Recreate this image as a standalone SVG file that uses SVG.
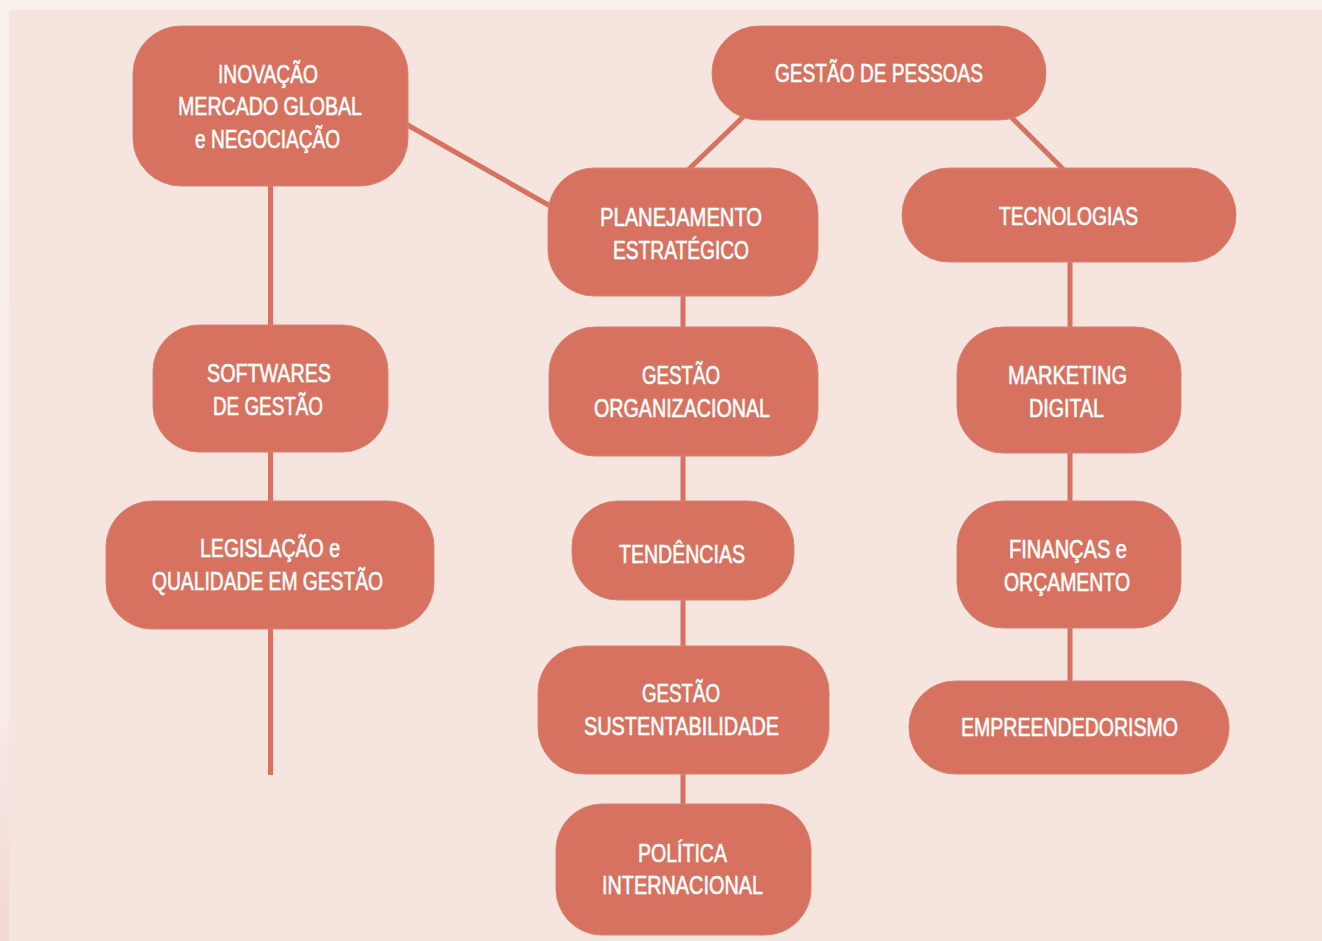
<svg xmlns="http://www.w3.org/2000/svg" width="1322" height="941" viewBox="0 0 1322 941">
<defs>
<linearGradient id="edge" x1="0" y1="0" x2="0" y2="1">
<stop offset="0" stop-color="#f9f0ed"/>
<stop offset="0.75" stop-color="#f8ebe8"/>
<stop offset="1" stop-color="#f2d6d1"/>
</linearGradient>
<style>
.node rect{fill:#d6725f;stroke:#da8270;stroke-width:1}
.node text{fill:#ffffff;stroke:#ffffff;stroke-width:0.6;font-family:"Liberation Sans",Arial,sans-serif;font-size:26px;text-anchor:middle}
.conn line{stroke:#d6725f;stroke-width:5;stroke-linecap:butt}
</style>
</defs>
<rect x="0" y="0" width="1322" height="941" fill="#f9f0ed"/>
<rect x="0" y="0" width="9" height="941" fill="url(#edge)"/>
<rect x="9" y="10" width="1313" height="931" fill="#f6e4df"/>
<g id="connectors" class="conn">
<line x1="270.5" y1="180" x2="270.5" y2="775"/>
<line x1="404" y1="123" x2="552" y2="207"/>
<line x1="744" y1="116" x2="688" y2="170"/>
<line x1="1010" y1="116" x2="1064" y2="170"/>
<line x1="683" y1="290" x2="683" y2="810"/>
<line x1="1070" y1="256" x2="1070" y2="687"/>
</g>
<g id="n-inovacao" class="node">
<rect x="133" y="26" width="275" height="160" rx="48"/>
<text x="268" y="83" textLength="100" lengthAdjust="spacingAndGlyphs">INOVAÇÃO</text>
<text x="270" y="115" textLength="184" lengthAdjust="spacingAndGlyphs">MERCADO GLOBAL</text>
<text x="267.5" y="148" textLength="145" lengthAdjust="spacingAndGlyphs">e NEGOCIAÇÃO</text>
</g>
<g id="n-gestao-pessoas" class="node">
<rect x="712" y="26" width="334" height="94" rx="47"/>
<text x="879" y="82" textLength="208" lengthAdjust="spacingAndGlyphs">GESTÃO DE PESSOAS</text>
</g>
<g id="n-planejamento" class="node">
<rect x="548" y="168" width="270" height="128" rx="46"/>
<text x="681" y="226" textLength="162" lengthAdjust="spacingAndGlyphs">PLANEJAMENTO</text>
<text x="681" y="259" textLength="136" lengthAdjust="spacingAndGlyphs">ESTRATÉGICO</text>
</g>
<g id="n-tecnologias" class="node">
<rect x="902" y="168" width="334" height="94" rx="47"/>
<text x="1068.5" y="225" textLength="139" lengthAdjust="spacingAndGlyphs">TECNOLOGIAS</text>
</g>
<g id="n-softwares" class="node">
<rect x="153" y="325" width="235" height="127" rx="46"/>
<text x="269" y="382" textLength="124" lengthAdjust="spacingAndGlyphs">SOFTWARES</text>
<text x="268" y="415" textLength="110" lengthAdjust="spacingAndGlyphs">DE GESTÃO</text>
</g>
<g id="n-gestao-org" class="node">
<rect x="549" y="327" width="269" height="129" rx="46"/>
<text x="681" y="384" textLength="78" lengthAdjust="spacingAndGlyphs">GESTÃO</text>
<text x="682" y="417" textLength="176" lengthAdjust="spacingAndGlyphs">ORGANIZACIONAL</text>
</g>
<g id="n-marketing" class="node">
<rect x="957" y="327" width="224" height="126" rx="46"/>
<text x="1067.5" y="384" textLength="119" lengthAdjust="spacingAndGlyphs">MARKETING</text>
<text x="1066.5" y="417" textLength="75" lengthAdjust="spacingAndGlyphs">DIGITAL</text>
</g>
<g id="n-legislacao" class="node">
<rect x="106" y="501" width="328" height="128" rx="46"/>
<text x="270" y="557" textLength="140" lengthAdjust="spacingAndGlyphs">LEGISLAÇÃO e</text>
<text x="267.5" y="590" textLength="231" lengthAdjust="spacingAndGlyphs">QUALIDADE EM GESTÃO</text>
</g>
<g id="n-tendencias" class="node">
<rect x="572" y="501" width="222" height="99" rx="46"/>
<text x="682" y="563" textLength="126" lengthAdjust="spacingAndGlyphs">TENDÊNCIAS</text>
</g>
<g id="n-financas" class="node">
<rect x="957" y="501" width="224" height="127" rx="46"/>
<text x="1068" y="558" textLength="118" lengthAdjust="spacingAndGlyphs">FINANÇAS e</text>
<text x="1067" y="591" textLength="126" lengthAdjust="spacingAndGlyphs">ORÇAMENTO</text>
</g>
<g id="n-gestao-sust" class="node">
<rect x="538" y="646" width="291" height="128" rx="46"/>
<text x="681" y="702" textLength="78" lengthAdjust="spacingAndGlyphs">GESTÃO</text>
<text x="681.5" y="735" textLength="195" lengthAdjust="spacingAndGlyphs">SUSTENTABILIDADE</text>
</g>
<g id="n-empreendedorismo" class="node">
<rect x="909" y="681" width="320" height="93" rx="46"/>
<text x="1069.5" y="736" textLength="217" lengthAdjust="spacingAndGlyphs">EMPREENDEDORISMO</text>
</g>
<g id="n-politica" class="node">
<rect x="556" y="804" width="255" height="131" rx="46"/>
<text x="682.5" y="862" textLength="89" lengthAdjust="spacingAndGlyphs">POLÍTICA</text>
<text x="682.5" y="894" textLength="161" lengthAdjust="spacingAndGlyphs">INTERNACIONAL</text>
</g>
</svg>
